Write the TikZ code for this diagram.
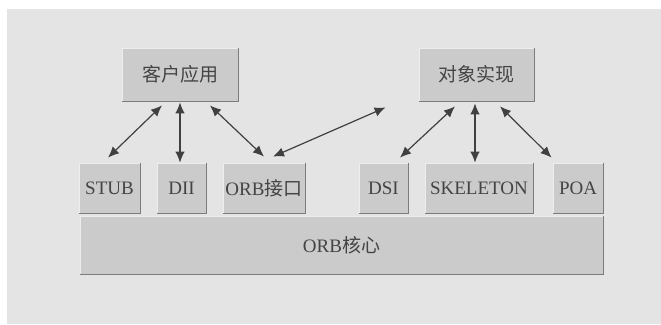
\documentclass[tikz,border=0pt]{standalone}
\usepackage{fontspec}
\setmainfont{Liberation Serif}
\newfontfamily\cjk{Noto Sans CJK SC}
\usetikzlibrary{arrows.meta}
\definecolor{bggray}{HTML}{E4E4E4}
\definecolor{boxgray}{HTML}{CBCBCB}
\definecolor{edgegray}{HTML}{EDEDED}
\definecolor{shadegray}{HTML}{7C7C7C}
\definecolor{txtgray}{HTML}{444444}
\definecolor{arrgray}{HTML}{404040}
\tikzset{
  box/.style={fill=boxgray, draw=edgegray, line width=0.8pt, inner sep=0pt,
    text=txtgray, font=\fontsize{19}{21}\selectfont},
  shade/.style={draw=shadegray, line width=1.6pt},
  arr/.style={draw=arrgray, line width=1.2pt, {Latex[length=11pt,width=9.5pt]}-{Latex[length=11pt,width=9.5pt]}},
}
\begin{document}
\begin{tikzpicture}[x=1pt,y=-1pt]
\useasboundingbox (0,0) rectangle (661,324);
\fill[white] (0,0) rectangle (661,324);
\fill[bggray] (7,9) rectangle (661,324);

\node[box, minimum width=116pt, minimum height=53pt] (client) at (180,74.5) {\cjk 客户应用};
\node[box, minimum width=115pt, minimum height=53pt] (impl) at (476.5,74.5) {\cjk 对象实现};

\node[box, minimum width=61pt, minimum height=50pt] (stub) at (109.5,188) {STUB};
\node[box, minimum width=49pt, minimum height=50pt] (dii) at (181.5,188) {DII};
\node[box, minimum width=82pt, minimum height=50pt] (orbif) at (264,188) {ORB{\cjk 接口}};
\node[box, minimum width=49pt, minimum height=50pt] (dsi) at (383.5,188) {DSI};
\node[box, minimum width=108pt, minimum height=50pt] (skel) at (479,188) {SKELETON};
\node[box, minimum width=50pt, minimum height=50pt] (poa) at (578,188) {POA};
\node[box, minimum width=523pt, minimum height=58pt] (core) at (341.5,245) {ORB{\cjk 核心}};

\foreach \n in {client,impl,stub,dii,orbif,dsi,skel,poa,core}
  \draw[shade] (\n.north east) -- (\n.south east) -- (\n.south west);

\draw[arr] ([shift={(-18,4)}]client.south) -- ([shift={(-1.5,-5)}]stub.north);
\draw[arr] ([shift={(0,1)}]client.south) -- (client.south |- dii.north);
\draw[arr] ([shift={(30,4)}]client.south) -- ([shift={(0,-6)}]orbif.north);
\draw[arr] ([shift={(9,-6)}]orbif.north) -- ([shift={(-33,6)}]impl.south west);
\draw[arr] ([shift={(-21.5,5)}]impl.south) -- ([shift={(16.5,-5)}]dsi.north);
\draw[arr] ([shift={(-1.5,2)}]impl.south) -- ([shift={(-1.5,0)}]impl.south |- skel.north);
\draw[arr] ([shift={(23.5,5)}]impl.south) -- ([shift={(-1,-5)}]poa.north west);
\end{tikzpicture}
\end{document}
